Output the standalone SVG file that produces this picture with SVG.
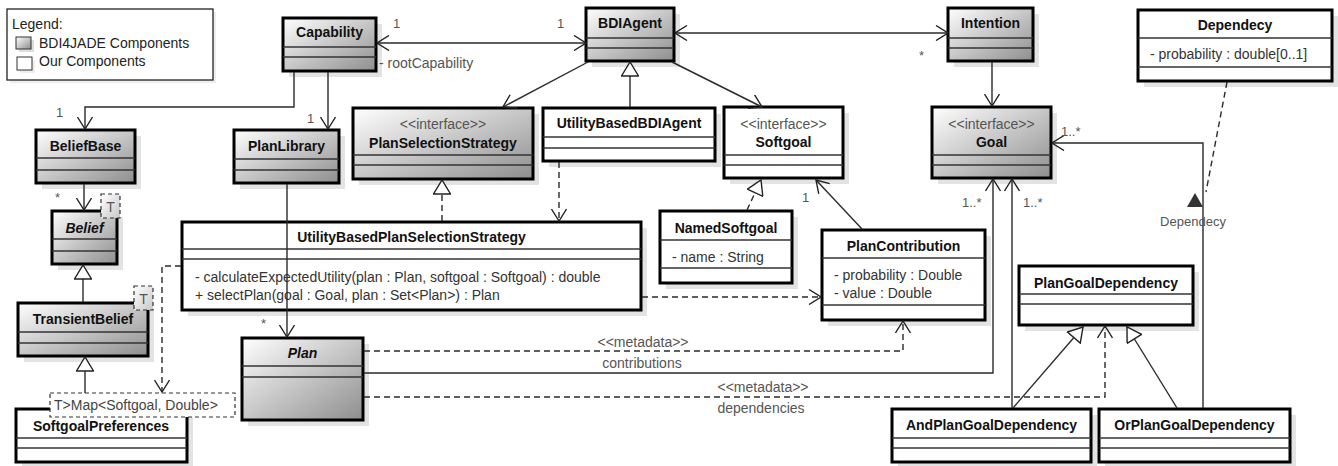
<svg xmlns="http://www.w3.org/2000/svg" width="1338" height="466" viewBox="0 0 1338 466">
<style>
.bx{stroke:#000;stroke-width:3}
.g{fill:url(#grad)}
.w{fill:#fff}
.sh{fill:#e3e3e3}
.dv{stroke:#333;stroke-width:1.5}
.nm{font-family:"Liberation Sans",Arial,sans-serif;font-size:14px;font-weight:bold;text-anchor:middle;fill:#111}
.it{font-style:italic}
.st{font-family:"Liberation Sans",Arial,sans-serif;font-size:14px;text-anchor:middle;fill:#555}
.at{font-family:"Liberation Sans",Arial,sans-serif;font-size:14px;fill:#333}
.lb{font-family:"Liberation Sans",Arial,sans-serif;font-size:13px;fill:#555}
.lc{text-anchor:middle}
.c{fill:none;stroke:#2a2a2a;stroke-width:1.4}
.d{stroke-dasharray:6 4}
.tp{fill:url(#grad2);stroke:#333;stroke-width:1.2;stroke-dasharray:4 3}
</style>
<defs>
<linearGradient id="grad" x1="0" y1="0" x2="1" y2="1">
<stop offset="0" stop-color="#ffffff"/>
<stop offset="1" stop-color="#8e8e8e"/>
</linearGradient>
<linearGradient id="grad2" x1="0" y1="0" x2="1" y2="1">
<stop offset="0" stop-color="#ffffff"/>
<stop offset="1" stop-color="#c8c8c8"/>
</linearGradient>
<marker id="open" viewBox="0 0 14 16" refX="13" refY="8" markerWidth="14" markerHeight="16" orient="auto-start-reverse" markerUnits="userSpaceOnUse">
<path d="M1,0.5 L13,8 L1,15.5" fill="none" stroke="#222" stroke-width="1.4"/>
</marker>
<marker id="tri" viewBox="0 0 16 18" refX="15" refY="9" markerWidth="16" markerHeight="18" orient="auto" markerUnits="userSpaceOnUse">
<path d="M1,0.5 L15,9 L1,17.5 Z" fill="#fff" stroke="#222" stroke-width="1.4"/>
</marker>
</defs>
<rect width="1338" height="466" fill="#fff"/>

<g id="legend">
<rect x="10" y="12" width="206" height="71" fill="#eee"/>
<rect x="7" y="9" width="206" height="71" fill="#fff" stroke="#222" stroke-width="1.3"/>
<text x="12" y="29" class="at" style="fill:#222">Legend:</text>
<rect x="19" y="40" width="15" height="12" fill="#ddd"/>
<rect x="16" y="37" width="15" height="12" fill="url(#grad)" stroke="#333" stroke-width="1"/>
<text x="39" y="48" class="at" style="fill:#222">BDI4JADE Components</text>
<rect x="20" y="60" width="15" height="13" fill="#eee"/>
<rect x="17" y="57" width="15" height="13" fill="#fff" stroke="#333" stroke-width="1"/>
<text x="39" y="66" class="at" style="fill:#222">Our Components</text>
</g>

<g id="Capability">
<rect x="289" y="24" width="93" height="53" class="sh"/>
<rect x="283" y="18" width="93" height="53" class="bx g"/>
<line x1="283" y1="47" x2="376" y2="47" class="dv"/><line x1="283" y1="57" x2="376" y2="57" class="dv"/>
<text x="329.5" y="37" class="nm">Capability</text>
</g>

<g id="BDIAgent">
<rect x="592" y="14" width="88" height="53" class="sh"/>
<rect x="586" y="8" width="88" height="53" class="bx g"/>
<line x1="586" y1="38" x2="674" y2="38" class="dv"/><line x1="586" y1="48" x2="674" y2="48" class="dv"/>
<text x="630" y="28" class="nm">BDIAgent</text>
</g>

<g id="Intention">
<rect x="954" y="14" width="85" height="53" class="sh"/>
<rect x="948" y="8" width="85" height="53" class="bx g"/>
<line x1="948" y1="38" x2="1033" y2="38" class="dv"/><line x1="948" y1="48" x2="1033" y2="48" class="dv"/>
<text x="990.5" y="28" class="nm">Intention</text>
</g>

<g id="Dependecy">
<rect x="1144" y="16" width="194" height="71" class="sh"/>
<rect x="1138" y="10" width="194" height="71" class="bx w"/>
<line x1="1138" y1="38" x2="1332" y2="38" class="dv"/><line x1="1138" y1="67" x2="1332" y2="67" class="dv"/>
<text x="1235" y="30" class="nm">Dependecy</text>
<text x="1150" y="59" class="at">- probability : double[0..1]</text>
</g>

<g id="Goal">
<rect x="938" y="113" width="119" height="71" class="sh"/>
<rect x="932" y="107" width="119" height="71" class="bx g"/>
<line x1="932" y1="155" x2="1051" y2="155" class="dv"/><line x1="932" y1="165" x2="1051" y2="165" class="dv"/>
<text x="991.5" y="129" class="st">&lt;&lt;interface&gt;&gt;</text>
<text x="991.5" y="147" class="nm">Goal</text>
</g>

<g id="Softgoal">
<rect x="730" y="113" width="119" height="71" class="sh"/>
<rect x="724" y="107" width="119" height="71" class="bx w"/>
<line x1="724" y1="155" x2="843" y2="155" class="dv"/><line x1="724" y1="165" x2="843" y2="165" class="dv"/>
<text x="783.5" y="129" class="st">&lt;&lt;interface&gt;&gt;</text>
<text x="783.5" y="147" class="nm">Softgoal</text>
</g>

<g id="PlanSelectionStrategy">
<rect x="359" y="114" width="180" height="71" class="sh"/>
<rect x="353" y="108" width="180" height="71" class="bx g"/>
<line x1="353" y1="155" x2="533" y2="155" class="dv"/><line x1="353" y1="165" x2="533" y2="165" class="dv"/>
<text x="443" y="129" class="st">&lt;&lt;interface&gt;&gt;</text>
<text x="443" y="148" class="nm">PlanSelectionStrategy</text>
</g>

<g id="UtilityBasedBDIAgent">
<rect x="549" y="114" width="172" height="53" class="sh"/>
<rect x="543" y="108" width="172" height="53" class="bx w"/>
<line x1="543" y1="137" x2="715" y2="137" class="dv"/><line x1="543" y1="148" x2="715" y2="148" class="dv"/>
<text x="629" y="128" class="nm">UtilityBasedBDIAgent</text>
</g>

<g id="BeliefBase">
<rect x="42" y="136" width="99" height="53" class="sh"/>
<rect x="36" y="130" width="99" height="53" class="bx g"/>
<line x1="36" y1="158" x2="135" y2="158" class="dv"/><line x1="36" y1="170" x2="135" y2="170" class="dv"/>
<text x="85.5" y="151" class="nm">BeliefBase</text>
</g>

<g id="PlanLibrary">
<rect x="240" y="136" width="105" height="53" class="sh"/>
<rect x="234" y="130" width="105" height="53" class="bx g"/>
<line x1="234" y1="159" x2="339" y2="159" class="dv"/><line x1="234" y1="170" x2="339" y2="170" class="dv"/>
<text x="286.5" y="151" class="nm">PlanLibrary</text>
</g>

<g id="Belief">
<rect x="58" y="217" width="65" height="53" class="sh"/>
<rect x="52" y="211" width="65" height="53" class="bx g"/>
<line x1="52" y1="239" x2="117" y2="239" class="dv"/><line x1="52" y1="251" x2="117" y2="251" class="dv"/>
<text x="84.5" y="233" class="nm it">Belief</text>
<rect x="101" y="194" width="19" height="24" class="tp"/>
<text x="110.5" y="212" class="st">T</text>
</g>

<g id="TransientBelief">
<rect x="24" y="309" width="130" height="53" class="sh"/>
<rect x="18" y="303" width="130" height="53" class="bx g"/>
<line x1="18" y1="332" x2="148" y2="332" class="dv"/><line x1="18" y1="343" x2="148" y2="343" class="dv"/>
<text x="83" y="324" class="nm">TransientBelief</text>
<rect x="134" y="286" width="19" height="24" class="tp"/>
<text x="143.5" y="304" class="st">T</text>
</g>

<g id="SoftgoalPreferences">
<rect x="22" y="415" width="171" height="53" class="sh"/>
<rect x="16" y="409" width="171" height="53" class="bx w"/>
<line x1="16" y1="438" x2="187" y2="438" class="dv"/><line x1="16" y1="448" x2="187" y2="448" class="dv"/>
<text x="101" y="431" class="nm">SoftgoalPreferences</text>
<rect x="50" y="393" width="185" height="24" fill="#fff" stroke="#333" stroke-width="1.2" stroke-dasharray="4 3"/>
<text x="54" y="410" class="at" style="fill:#444">T&gt;Map&lt;Softgoal, Double&gt;</text>
</g>

<g id="UtilityBasedPlanSelectionStrategy">
<rect x="188" y="228" width="459" height="88" class="sh"/>
<rect x="182" y="222" width="459" height="88" class="bx w"/>
<line x1="182" y1="249" x2="641" y2="249" class="dv"/><line x1="182" y1="259" x2="641" y2="259" class="dv"/>
<text x="411.5" y="242" class="nm">UtilityBasedPlanSelectionStrategy</text>
<text x="195" y="282" class="at">- calculateExpectedUtility(plan : Plan, softgoal : Softgoal) : double</text>
<text x="195" y="300" class="at">+ selectPlan(goal : Goal, plan : Set&lt;Plan&gt;) : Plan</text>
</g>

<g id="NamedSoftgoal">
<rect x="666" y="217" width="132" height="72" class="sh"/>
<rect x="660" y="211" width="132" height="72" class="bx w"/>
<line x1="660" y1="240" x2="792" y2="240" class="dv"/><line x1="660" y1="268" x2="792" y2="268" class="dv"/>
<text x="726" y="233" class="nm">NamedSoftgoal</text>
<text x="672" y="262" class="at">- name : String</text>
</g>

<g id="PlanContribution">
<rect x="828" y="236" width="163" height="90" class="sh"/>
<rect x="822" y="230" width="163" height="90" class="bx w"/>
<line x1="822" y1="258" x2="985" y2="258" class="dv"/><line x1="822" y1="305" x2="985" y2="305" class="dv"/>
<text x="903.5" y="251" class="nm">PlanContribution</text>
<text x="834" y="280" class="at">- probability : Double</text>
<text x="834" y="298" class="at">- value : Double</text>
</g>

<g id="PlanGoalDependency">
<rect x="1025" y="272" width="174" height="59" class="sh"/>
<rect x="1019" y="266" width="174" height="59" class="bx w"/>
<line x1="1019" y1="294" x2="1193" y2="294" class="dv"/><line x1="1019" y1="304" x2="1193" y2="304" class="dv"/>
<text x="1106" y="288" class="nm">PlanGoalDependency</text>
</g>

<g id="AndPlanGoalDependency">
<rect x="898" y="415" width="199" height="53" class="sh"/>
<rect x="892" y="409" width="199" height="53" class="bx w"/>
<line x1="892" y1="438" x2="1091" y2="438" class="dv"/><line x1="892" y1="448" x2="1091" y2="448" class="dv"/>
<text x="991.5" y="430" class="nm">AndPlanGoalDependency</text>
</g>

<g id="OrPlanGoalDependency">
<rect x="1105" y="415" width="191" height="53" class="sh"/>
<rect x="1099" y="409" width="191" height="53" class="bx w"/>
<line x1="1099" y1="438" x2="1290" y2="438" class="dv"/><line x1="1099" y1="448" x2="1290" y2="448" class="dv"/>
<text x="1194.5" y="430" class="nm">OrPlanGoalDependency</text>
</g>

<g id="Plan">
<rect x="248" y="344" width="121" height="82" class="sh"/>
<rect x="242" y="338" width="121" height="82" class="bx g"/>
<line x1="242" y1="366" x2="363" y2="366" class="dv"/><line x1="242" y1="377" x2="363" y2="377" class="dv"/>
<text x="302.5" y="358" class="nm it">Plan</text>
</g>

<g id="connectors">
<path class="c" d="M377,43 L586,43" marker-start="url(#open)" marker-end="url(#open)"/>
<path class="c" d="M675,33 L948,33" marker-start="url(#open)" marker-end="url(#open)"/>
<path class="c" d="M294,72 L294,107 L85,107 L85,129" marker-end="url(#open)"/>
<path class="c" d="M328,72 L328,129" marker-end="url(#open)"/>
<path class="c" d="M287,184 L287,337" marker-end="url(#open)"/>
<path class="c" d="M588,62 L503,107" marker-end="url(#open)"/>
<path class="c" d="M630,107 L630,62" marker-end="url(#tri)"/>
<path class="c" d="M672,62 L762,107" marker-end="url(#open)"/>
<path class="c" d="M992,62 L992,106" marker-end="url(#open)"/>
<path class="c d" d="M1227,82 L1206,192"/>
<path class="c d" d="M747,210 L761,180" marker-end="url(#tri)"/>
<path class="c" d="M862,229 L816,180" marker-end="url(#open)"/>
<path class="c d" d="M442,221 L442,180" marker-end="url(#tri)"/>
<path class="c d" d="M559,162 L559,221" marker-end="url(#open)"/>
<path class="c d" d="M642,297 L821,297" marker-end="url(#open)"/>
<path class="c d" d="M181,266 L162,266 L162,392" marker-end="url(#open)"/>
<path class="c" d="M83,302 L83,265" marker-end="url(#tri)"/>
<path class="c" d="M85,393 L85,357" marker-end="url(#tri)"/>
<path class="c" d="M84,184 L84,210" marker-end="url(#open)"/>
<path class="c d" d="M364,351 L903,351 L903,321" marker-end="url(#open)"/>
<path class="c" d="M364,373 L993,373 L993,179" marker-end="url(#open)"/>
<path class="c d" d="M364,397 L1105,397 L1105,326" marker-end="url(#open)"/>
<path class="c" d="M1012,408 L1012,179" marker-end="url(#open)"/>
<path class="c" d="M1013,408 L1083,327" marker-end="url(#tri)"/>
<path class="c" d="M1177,408 L1127,327" marker-end="url(#tri)"/>
<path class="c" d="M1203,408 L1203,143 L1052,143" marker-end="url(#open)"/>
<polygon points="1195,193 1187,207 1203,207" fill="#333"/>
<text x="393" y="28" class="lb">1</text>
<text x="557" y="28" class="lb">1</text>
<text x="379" y="68" class="lb" style="font-size:14px">- rootCapability</text>
<text x="919" y="60" class="lb">*</text>
<text x="56" y="117" class="lb">1</text>
<text x="307" y="123" class="lb">1</text>
<text x="55" y="202" class="lb">*</text>
<text x="261" y="328" class="lb">*</text>
<text x="802" y="202" class="lb">1</text>
<text x="962" y="207" class="lb">1..*</text>
<text x="1023" y="207" class="lb">1..*</text>
<text x="1061" y="136" class="lb">1..*</text>
<text x="1193" y="226" class="lb lc">Dependecy</text>
<text x="643" y="347" class="lb lc" style="font-size:14px">&lt;&lt;metadata&gt;&gt;</text>
<text x="642" y="368" class="lb lc" style="font-size:14px">contributions</text>
<text x="763" y="392" class="lb lc" style="font-size:14px">&lt;&lt;metadata&gt;&gt;</text>
<text x="761" y="413" class="lb lc" style="font-size:14px">dependencies</text>
</g>
</svg>
